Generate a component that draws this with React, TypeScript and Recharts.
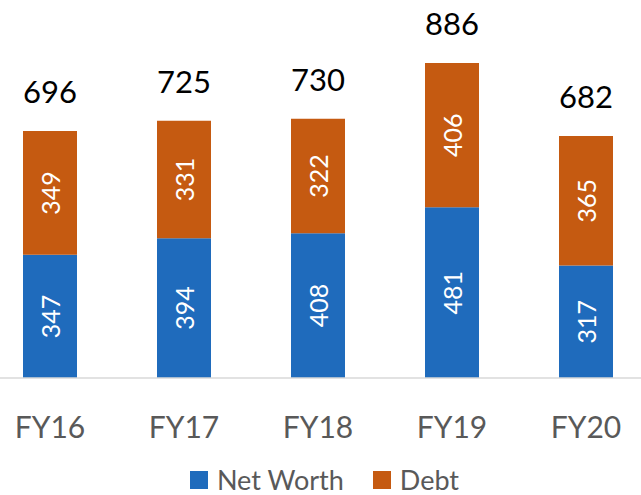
import React from "react";
import { BarChart, Bar, XAxis, YAxis, LabelList } from "recharts";

const categories = ["FY16", "FY17", "FY18", "FY19", "FY20"];
const netWorth = [347, 394, 408, 481, 317];
const debt = [349, 331, 322, 406, 365];
const totals = [696, 725, 730, 886, 682];
const seriesNames = ["Net Worth", "Debt"];
const seriesColors = ["#1F6BBC", "#C55A11"];

const data = categories.map((c, i) => ({
  name: c,
  netWorth: netWorth[i],
  debt: debt[i],
  total: totals[i],
}));

const FONT = "Lato, 'Noto Sans', sans-serif";

const InsideLabel = (props: any) => {
  const { x, y, width, height, value } = props;
  const cx = x + width / 2;
  const cy = y + height / 2;
  return (
    <text
      x={cx}
      y={cy}
      transform={`rotate(-90, ${cx}, ${cy})`}
      textAnchor="middle"
      dominantBaseline="central"
      fill="#ffffff"
      fontSize={25}
      fontFamily={FONT}
    >
      {value}
    </text>
  );
};

const TotalLabel = (props: any) => {
  const { x, y, width, value } = props;
  return (
    <text
      x={x + width / 2}
      y={y - 28}
      textAnchor="middle"
      fill="#000000"
      fontSize={31}
      fontFamily={FONT}
    >
      {value}
    </text>
  );
};

const Tick = (props: any) => {
  const { x, y, payload } = props;
  return (
    <text
      x={x}
      y={y}
      dy={60}
      textAnchor="middle"
      fill="#595959"
      fontSize={30}
      fontFamily={FONT}
    >
      {payload.value}
    </text>
  );
};

export default function App() {
  return (
    <div
      style={{
        position: "absolute",
        left: 0,
        top: 0,
        width: 641,
        height: 495,
        overflow: "hidden",
        background: "#ffffff",
      }}
    >
      <div style={{ position: "absolute", left: -17, top: 0 }}>
        <BarChart
          width={670}
          height={495}
          data={data}
          margin={{ top: 23, right: 0, bottom: 57, left: 0 }}
          barSize={54}
        >
          <YAxis hide domain={[0, 1000]} />
          <XAxis
            dataKey="name"
            height={60}
            tickLine={false}
            tickSize={0}
            tickMargin={0}
            axisLine={{ stroke: "#D9D9D9", strokeWidth: 1.5 }}
            tick={<Tick />}
            interval={0}
          />
          <Bar dataKey="netWorth" stackId="a" fill={seriesColors[0]} isAnimationActive={false}>
            <LabelList dataKey="netWorth" content={<InsideLabel />} />
          </Bar>
          <Bar dataKey="debt" stackId="a" fill={seriesColors[1]} isAnimationActive={false}>
            <LabelList dataKey="debt" content={<InsideLabel />} />
            <LabelList dataKey="total" content={<TotalLabel />} />
          </Bar>
        </BarChart>
      </div>
      <div
        style={{
          position: "absolute",
          top: 467,
          left: 0,
          width: 641,
          height: 26,
          display: "flex",
          justifyContent: "center",
          alignItems: "center",
          fontFamily: FONT,
          fontSize: 27,
          color: "#595959",
          lineHeight: "26px",
          paddingLeft: 4,
        }}
      >
        {seriesNames.map((n, i) => (
          <div key={n} style={{ display: "flex", alignItems: "center", marginRight: i === 0 ? 29 : 0 }}>
            <span
              style={{
                display: "inline-block",
                width: 18,
                height: 18,
                background: seriesColors[i],
                marginRight: 9,
              }}
            />
            <span style={{ lineHeight: "26px" }}>{n}</span>
          </div>
        ))}
      </div>
    </div>
  );
}
